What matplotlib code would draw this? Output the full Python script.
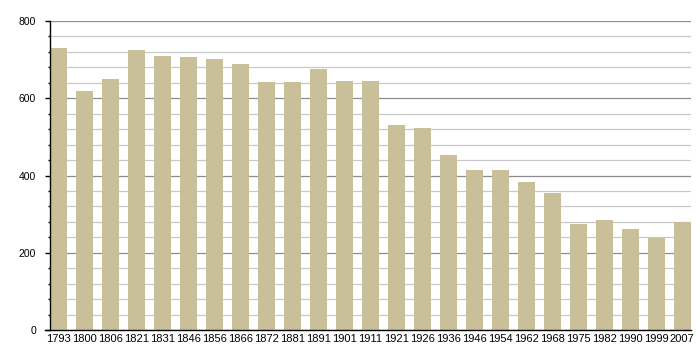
import matplotlib
matplotlib.use("Agg")
import matplotlib.pyplot as plt
from matplotlib.ticker import MultipleLocator

years = ["1793", "1800", "1806", "1821", "1831", "1846", "1856", "1866", "1872",
         "1881", "1891", "1901", "1911", "1921", "1926", "1936", "1946", "1954",
         "1962", "1968", "1975", "1982", "1990", "1999", "2007"]
population = [729, 619, 650, 725, 709, 707, 702, 689, 641, 641, 676, 645, 645,
              531, 523, 453, 414, 414, 383, 355, 274, 285, 261, 239, 280]

plt.rcParams['font.family'] = ['Liberation Sans', 'DejaVu Sans']

fig = plt.figure(figsize=(7, 3.6), dpi=100)
ax = fig.add_axes([50/700, 1 - 330/360, 640.7/700, 309/360])

w = 0.654
x = list(range(len(years)))
ax.bar(x, population, width=w, color="#c9c09a", zorder=2)
ax.set_xlim(-w/2, len(years) - 1 + w/2)
ax.set_ylim(0, 800)

ax.yaxis.set_major_locator(MultipleLocator(200))
ax.yaxis.set_minor_locator(MultipleLocator(40))
ax.grid(which="major", axis="y", color="#8c8c8c", linewidth=0.9, zorder=0)
ax.grid(which="minor", axis="y", color="#c8c8c8", linewidth=0.9, zorder=0)
ax.set_axisbelow(True)

ax.set_xticks(x)
ax.set_xticklabels(years)
ax.tick_params(axis="x", length=0, pad=3, labelsize=8, colors="black")
ax.tick_params(axis="y", which="major", length=3.6, width=1, pad=6.5, labelsize=7.5)
ax.tick_params(axis="y", which="minor", length=1.6, width=1)

for s in ["top", "right"]:
    ax.spines[s].set_visible(False)
ax.spines["left"].set_color("black")
ax.spines["bottom"].set_color("black")
ax.spines["left"].set_linewidth(1)
ax.spines["bottom"].set_linewidth(1)
ax.spines["bottom"].set_bounds(-w/2 - 0.2, len(years) - 1 + w/2)

fig.savefig("out.png", dpi=100)
